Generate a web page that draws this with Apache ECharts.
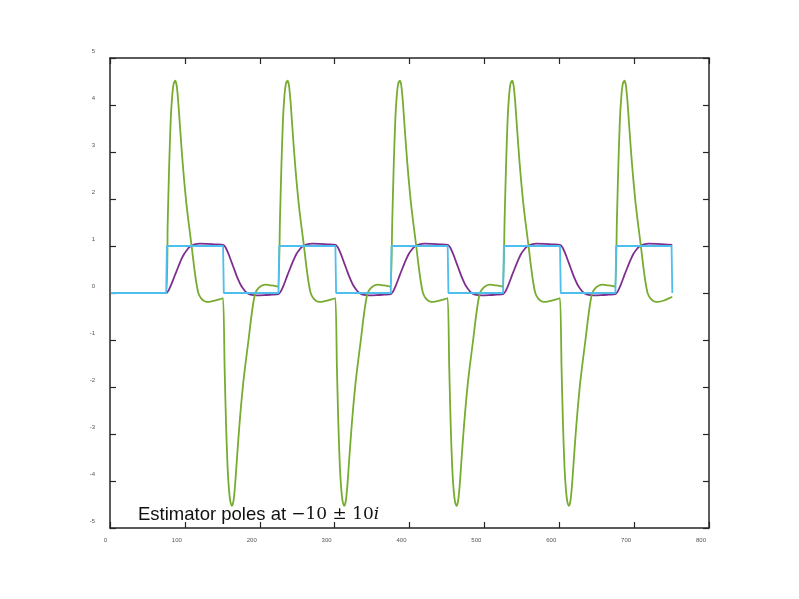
<!DOCTYPE html>
<html>
<head>
<meta charset="utf-8">
<script src="https://cdn.jsdelivr.net/npm/echarts@6/dist/echarts.min.js"></script>
<style>html,body{margin:0;padding:0;background:#fff;}#c{width:799px;height:599px;}</style>
</head>
<body>
<div id="c"></div>
<script>
// ---- data ----
var xTicks = [0, 100, 200, 300, 400, 500, 600, 700, 800];
var yTicks = [-5, -4, -3, -2, -1, 0, 1, 2, 3, 4, 5];

// reference square wave (cyan)
var squareWave = [[1,0],[75,0],[76,1],[151,1],[152,0],[225,0],[226,1],[301,1],[302,0],[375,0],[376,1],[451,1],[452,0],[525,0],[526,1],[601,1],[602,0],[675,0],[676,1],[750,1],[751,0]];

// system output (purple)
var outputCurve = [[1,0],[75,0],
[78,0.05],[81,0.15],[84,0.27],[87,0.39],[90,0.51],[93,0.63],[96,0.74],[99,0.83],[102,0.9],[105,0.96],[108,1.0],[113,1.035],[120,1.05],[130,1.045],[140,1.035],[151,1.025],
[154,0.98],[157,0.88],[160,0.76],[163,0.63],[166,0.5],[169,0.37],[172,0.26],[175,0.16],[178,0.09],[181,0.03],[184,-0.01],[189,-0.04],[196,-0.05],[206,-0.045],[216,-0.035],[225,-0.025],
[228,0.03],[231,0.13],[234,0.25],[237,0.38],[240,0.5],[243,0.62],[246,0.73],[249,0.83],[252,0.9],[255,0.96],[258,1.0],[263,1.035],[270,1.05],[280,1.045],[290,1.035],[301,1.025],
[304,0.98],[307,0.88],[310,0.76],[313,0.63],[316,0.5],[319,0.37],[322,0.26],[325,0.16],[328,0.09],[331,0.03],[334,-0.01],[339,-0.04],[346,-0.05],[356,-0.045],[366,-0.035],[375,-0.025],
[378,0.03],[381,0.13],[384,0.25],[387,0.38],[390,0.5],[393,0.62],[396,0.73],[399,0.83],[402,0.9],[405,0.96],[408,1.0],[413,1.035],[420,1.05],[430,1.045],[440,1.035],[451,1.025],
[454,0.98],[457,0.88],[460,0.76],[463,0.63],[466,0.5],[469,0.37],[472,0.26],[475,0.16],[478,0.09],[481,0.03],[484,-0.01],[489,-0.04],[496,-0.05],[506,-0.045],[516,-0.035],[525,-0.025],
[528,0.03],[531,0.13],[534,0.25],[537,0.38],[540,0.5],[543,0.62],[546,0.73],[549,0.83],[552,0.9],[555,0.96],[558,1.0],[563,1.035],[570,1.05],[580,1.045],[590,1.035],[601,1.025],
[604,0.98],[607,0.88],[610,0.76],[613,0.63],[616,0.5],[619,0.37],[622,0.26],[625,0.16],[628,0.09],[631,0.03],[634,-0.01],[639,-0.04],[646,-0.05],[656,-0.045],[666,-0.035],[675,-0.025],
[678,0.03],[681,0.13],[684,0.25],[687,0.38],[690,0.5],[693,0.62],[696,0.73],[699,0.83],[702,0.9],[705,0.96],[708,1.0],[713,1.035],[720,1.05],[730,1.045],[740,1.035],[751,1.025]];

// control signal (green)
var controlCurve = [[1,0],[75,0],
[77,1.45],[79,2.7],[81,3.65],[83,4.18],[85,4.45],[87,4.52],[89,4.42],[91,4.1],[93,3.65],[95,3.2],[97,2.78],[99,2.4],[102,1.9],[105,1.5],[109,1.0],[112,0.6],[115,0.25],[118,0.0],[122,-0.12],[127,-0.18],[132,-0.19],[140,-0.16],[147,-0.13],[151,-0.11],
[153,-1.55],[155,-2.8],[157,-3.7],[159,-4.2],[161,-4.46],[163,-4.53],[165,-4.42],[167,-4.1],[169,-3.65],[171,-3.2],[173,-2.78],[175,-2.4],[178,-1.9],[181,-1.5],[185,-1.0],[188,-0.6],[191,-0.25],[194,0.0],[198,0.1],[203,0.16],[208,0.18],[216,0.16],[223,0.14],[225,0.13],
[227,1.55],[229,2.75],[231,3.68],[233,4.2],[235,4.46],[237,4.52],[239,4.42],[241,4.1],[243,3.65],[245,3.2],[247,2.78],[249,2.4],[252,1.9],[255,1.5],[259,1.0],[262,0.6],[265,0.25],[268,0.0],[272,-0.12],[277,-0.18],[282,-0.19],[290,-0.16],[297,-0.13],[301,-0.11],
[303,-1.55],[305,-2.8],[307,-3.7],[309,-4.2],[311,-4.46],[313,-4.53],[315,-4.42],[317,-4.1],[319,-3.65],[321,-3.2],[323,-2.78],[325,-2.4],[328,-1.9],[331,-1.5],[335,-1.0],[338,-0.6],[341,-0.25],[344,0.0],[348,0.1],[353,0.16],[358,0.18],[366,0.16],[373,0.14],[375,0.13],
[377,1.55],[379,2.75],[381,3.68],[383,4.2],[385,4.46],[387,4.52],[389,4.42],[391,4.1],[393,3.65],[395,3.2],[397,2.78],[399,2.4],[402,1.9],[405,1.5],[409,1.0],[412,0.6],[415,0.25],[418,0.0],[422,-0.12],[427,-0.18],[432,-0.19],[440,-0.16],[447,-0.13],[451,-0.11],
[453,-1.55],[455,-2.8],[457,-3.7],[459,-4.2],[461,-4.46],[463,-4.53],[465,-4.42],[467,-4.1],[469,-3.65],[471,-3.2],[473,-2.78],[475,-2.4],[478,-1.9],[481,-1.5],[485,-1.0],[488,-0.6],[491,-0.25],[494,0.0],[498,0.1],[503,0.16],[508,0.18],[516,0.16],[523,0.14],[525,0.13],
[527,1.55],[529,2.75],[531,3.68],[533,4.2],[535,4.46],[537,4.52],[539,4.42],[541,4.1],[543,3.65],[545,3.2],[547,2.78],[549,2.4],[552,1.9],[555,1.5],[559,1.0],[562,0.6],[565,0.25],[568,0.0],[572,-0.12],[577,-0.18],[582,-0.19],[590,-0.16],[597,-0.13],[601,-0.11],
[603,-1.55],[605,-2.8],[607,-3.7],[609,-4.2],[611,-4.46],[613,-4.53],[615,-4.42],[617,-4.1],[619,-3.65],[621,-3.2],[623,-2.78],[625,-2.4],[628,-1.9],[631,-1.5],[635,-1.0],[638,-0.6],[641,-0.25],[644,0.0],[648,0.1],[653,0.16],[658,0.18],[666,0.16],[673,0.14],[675,0.13],
[677,1.55],[679,2.75],[681,3.68],[683,4.2],[685,4.46],[687,4.52],[689,4.42],[691,4.1],[693,3.65],[695,3.2],[697,2.78],[699,2.4],[702,1.9],[705,1.5],[709,1.0],[712,0.6],[715,0.25],[718,0.0],[722,-0.12],[727,-0.18],[732,-0.19],[740,-0.16],[747,-0.11],[751,-0.08]];

var annotation = 'Estimator poles at ';
var annotationMath = '\u221210 \u00b1 10';
var annotationVar = 'i';

// ---- chart ----
var chart = echarts.init(document.getElementById('c'), null, {renderer: 'canvas'});
var axisColor = '#262626';
var labelStyle = {fontFamily: 'Liberation Sans, Arial, sans-serif', fontSize: 6, color: '#555'};

function baseX(pos, showLabel) {
  return {
    type: 'value', position: pos, min: xTicks[0], max: xTicks[xTicks.length - 1], interval: 100,
    axisLine: {show: true, onZero: false, lineStyle: {color: axisColor, width: 1.5}},
    axisTick: {show: true, inside: true, length: 6, lineStyle: {color: axisColor, width: 1.2}},
    axisLabel: showLabel ? Object.assign({show: true, margin: 9, align: 'right', padding: [0, 3, 0, 0]}, labelStyle) : {show: false},
    splitLine: {show: false}
  };
}
function baseY(pos, showLabel) {
  return {
    type: 'value', position: pos, min: yTicks[0], max: yTicks[yTicks.length - 1], interval: 1,
    axisLine: {show: true, onZero: false, lineStyle: {color: axisColor, width: 1.5}},
    axisTick: {show: true, inside: true, length: 6, lineStyle: {color: axisColor, width: 1.2}},
    axisLabel: showLabel ? Object.assign({show: true, margin: 15, align: 'right', verticalAlign: 'bottom', padding: [0, 0, 4, 0]}, labelStyle) : {show: false},
    splitLine: {show: false}
  };
}

var option = {
  animation: false,
  backgroundColor: '#ffffff',
  grid: {left: 110, top: 58, right: 90, bottom: 71, containLabel: false},
  xAxis: [baseX('bottom', true), baseX('top', false)],
  yAxis: [baseY('left', true), baseY('right', false)],
  title: {
    left: 138, top: 505, padding: 0,
    text: '{a|' + annotation + '}{b|' + annotationMath + '}{c|' + annotationVar + '}',
    textStyle: {
      fontWeight: 'normal',
      rich: {
        a: {fontFamily: 'Liberation Sans, Arial, sans-serif', fontWeight: 'normal', fontSize: 18.5, color: '#111', lineHeight: 20},
        b: {fontFamily: 'DejaVu Serif, serif', fontWeight: 'normal', fontSize: 17, color: '#111', lineHeight: 20},
        c: {fontFamily: 'DejaVu Serif, serif', fontWeight: 'normal', fontStyle: 'italic', fontSize: 17, color: '#111', lineHeight: 20}
      }
    }
  },
  series: [
    {type: 'line', name: 'output', data: outputCurve, xAxisIndex: 0, yAxisIndex: 0, showSymbol: false, symbol: 'none', smooth: 0.3,
     lineStyle: {color: '#7E2F8E', width: 1.8}, z: 2},
    {type: 'line', name: 'control', data: controlCurve, xAxisIndex: 0, yAxisIndex: 0, showSymbol: false, symbol: 'none', smooth: 0.2,
     lineStyle: {color: '#77AC30', width: 1.8}, z: 3},
    {type: 'line', name: 'reference', data: squareWave, xAxisIndex: 0, yAxisIndex: 0, showSymbol: false, symbol: 'none',
     lineStyle: {color: '#4DBEEE', width: 1.8}, z: 4}
  ]
};
chart.setOption(option);
</script>
</body>
</html>
